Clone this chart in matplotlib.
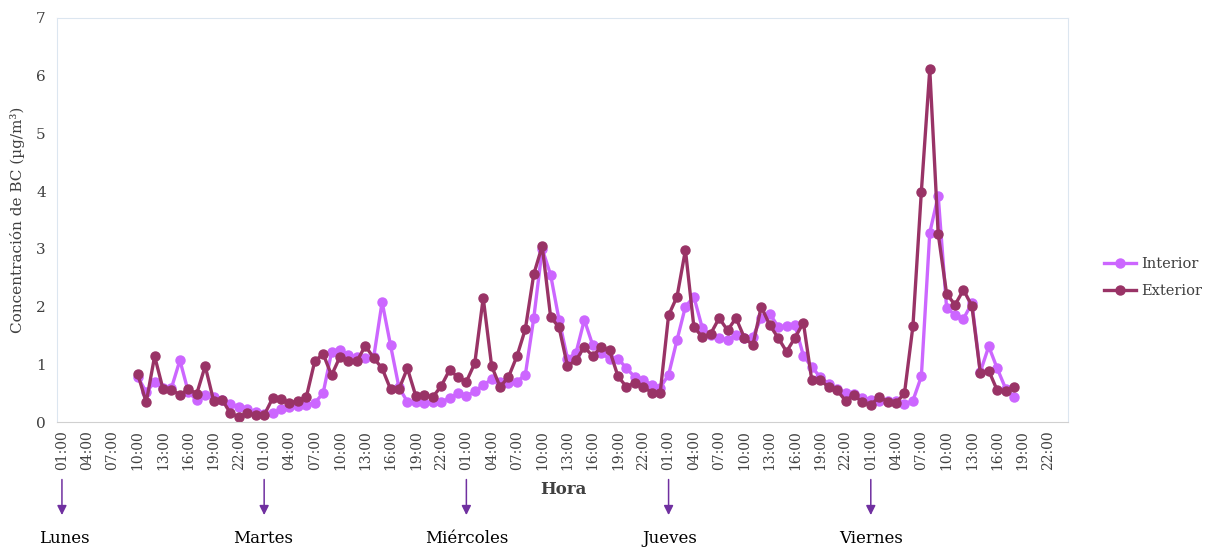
import matplotlib.pyplot as plt
import numpy as np

plt.rcParams['font.family'] = ['DejaVu Serif']

# hourly readings, Monday 10:00 to Friday 18:00
start_hour = 10  # hours after Monday 00:00
interior = [
    # Lunes 10..23
    0.78, 0.52, 0.69, 0.59, 0.59, 1.07, 0.52, 0.38, 0.47, 0.44, 0.38, 0.31, 0.26, 0.22,
    # Martes 00..23
    0.17, 0.14, 0.15, 0.22, 0.26, 0.28, 0.30, 0.33, 0.50, 1.21, 1.24, 1.16, 1.12, 1.11,
    1.12, 2.08, 1.33, 0.60, 0.35, 0.35, 0.33, 0.34, 0.35, 0.41,
    # Miercoles 00..23
    0.50, 0.45, 0.53, 0.64, 0.74, 0.70, 0.68, 0.70, 0.82, 1.80, 3.00, 2.55, 1.77, 1.10,
    1.19, 1.77, 1.33, 1.19, 1.10, 1.10, 0.93, 0.78, 0.73, 0.64,
    # Jueves 00..23
    0.59, 0.82, 1.42, 2.00, 2.17, 1.63, 1.51, 1.46, 1.42, 1.51, 1.46, 1.48, 1.80, 1.88,
    1.65, 1.66, 1.68, 1.15, 0.95, 0.78, 0.66, 0.57, 0.50, 0.48,
    # Viernes 00..18
    0.41, 0.39, 0.36, 0.37, 0.36, 0.31, 0.37, 0.79, 3.28, 3.92, 1.97, 1.86, 1.79, 2.06,
    0.87, 1.31, 0.93, 0.58, 0.44,
]
exterior = [
    0.83, 0.34, 1.14, 0.57, 0.56, 0.47, 0.57, 0.49, 0.97, 0.37, 0.39, 0.15, 0.09, 0.15,
    0.12, 0.12, 0.41, 0.40, 0.33, 0.37, 0.43, 1.05, 1.18, 0.81, 1.13, 1.05, 1.05, 1.32,
    1.11, 0.93, 0.57, 0.57, 0.93, 0.45, 0.47, 0.43, 0.62, 0.90,
    0.78, 0.70, 1.02, 2.15, 0.97, 0.61, 0.78, 1.14, 1.61, 2.56, 3.05, 1.82, 1.64, 0.97,
    1.07, 1.30, 1.14, 1.30, 1.24, 0.79, 0.61, 0.68, 0.61, 0.51,
    0.50, 1.85, 2.17, 2.98, 1.65, 1.47, 1.53, 1.80, 1.59, 1.80, 1.46, 1.33, 2.00, 1.68,
    1.46, 1.22, 1.46, 1.72, 0.72, 0.72, 0.61, 0.55, 0.37, 0.47,
    0.34, 0.29, 0.44, 0.35, 0.33, 0.50, 1.66, 3.99, 6.11, 3.26, 2.22, 2.03, 2.29, 2.01,
    0.85, 0.89, 0.55, 0.53, 0.60,
]
days = ['Lunes', 'Martes', 'Miércoles', 'Jueves', 'Viernes']
tick_times = ['01:00', '04:00', '07:00', '10:00', '13:00', '16:00', '19:00', '22:00']

hours = start_hour + np.arange(len(interior))

fig = plt.figure(figsize=(12.07, 5.48), dpi=100)
ax = fig.add_axes([0.0472, 0.2299, 0.8376, 0.7373])

ax.plot(hours, interior, color='#CC66FF', lw=2.4, marker='o', ms=6.5, label='Interior')
ax.plot(hours, exterior, color='#993366', lw=2.4, marker='o', ms=6.5, label='Exterior')

ticks = [d * 24 + int(t[:2]) for d in range(len(days)) for t in tick_times]
ax.set_xticks(ticks)
ax.set_xticklabels(tick_times * len(days), rotation=90, fontsize=10, color='#404040')
ax.set_xlim(0.41, 120.4)
ax.set_ylim(0, 7)
ax.set_yticks(range(8))
ax.tick_params(axis='y', length=0, labelsize=11, colors='#404040', pad=8)
ax.tick_params(axis='x', length=0, pad=6)
for s in ax.spines.values():
    s.set_color('#DCE6F0')
    s.set_linewidth(0.8)
ax.spines['bottom'].set_color('#D0D0D0')

ax.set_ylabel('Concentración de BC (µg/m³)', fontsize=11, color='#404040', labelpad=8)
fig.text(0.4665, 0.106, 'Hora', ha='center', va='center', fontsize=12,
         fontweight='bold', color='#404040')

# day markers below the axis
label_shift = [3, -1, 1, 1, 0]
for d, name in enumerate(days):
    xh = d * 24 + 1
    ax.annotate('', xy=(xh, 0.055), xytext=(xh, 0.13),
                xycoords=('data', 'figure fraction'),
                textcoords=('data', 'figure fraction'),
                arrowprops=dict(arrowstyle='-|>', color='#7030A0', lw=1.1,
                                mutation_scale=14))
    ax.annotate(name, xy=(xh + label_shift[d] * 0.1, 0.018),
                xycoords=('data', 'figure fraction'),
                ha='center', va='center', fontsize=12, color='black',
                annotation_clip=False)

fig.legend(loc='center left', bbox_to_anchor=(0.915, 0.493), frameon=False,
           fontsize=10.5, handlelength=2.2, handletextpad=0.3, borderaxespad=0,
           borderpad=0, labelspacing=0.9, labelcolor='#404040')

fig.savefig('out.png', dpi=100)
